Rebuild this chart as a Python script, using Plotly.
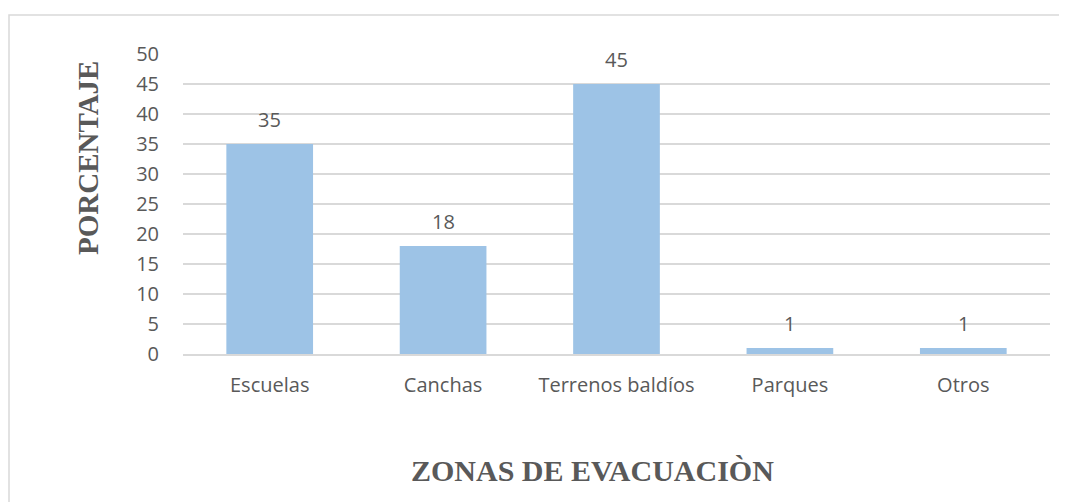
import plotly.graph_objects as go

categories = ["Escuelas", "Canchas", "Terrenos baldíos", "Parques", "Otros"]
values = [35, 18, 45, 1, 1]
y_ticks = [0, 5, 10, 15, 20, 25, 30, 35, 40, 45, 50]

TEXT = "#595959"
BAR = "#9DC3E6"
GRID = "#D9D9D9"
OFF = 8  # default page body margin
W, H = 1067 - OFF, 502 - OFF
L, R, T, B = 183 - OFF, 17, 54 - OFF, 148
PW, PH = W - L - R, H - T - B


def px_x(x):
    return (x - OFF - L) / PW


def px_y(y):
    return (T + PH - (y - OFF)) / PH


fig = go.Figure(
    go.Bar(
        x=categories,
        y=values,
        marker=dict(color=BAR, line=dict(width=0)),
        width=0.5,
        hoverinfo="skip",
    )
)

for c, v in zip(categories, values):
    fig.add_annotation(
        x=c, y=v, xref="x", yref="y", text=str(v), showarrow=False,
        yanchor="bottom", yshift=9,
        font=dict(family="Open Sans", size=20, color=TEXT),
    )

fig.add_annotation(
    x=px_x(88), y=px_y(158), xref="paper", yref="paper",
    xanchor="center", yanchor="middle",
    text="<b>PORCENTAJE</b>", textangle=-90, showarrow=False,
    font=dict(family="Liberation Serif", size=29, color=TEXT),
)
fig.add_annotation(
    x=px_x(592), y=px_y(470), xref="paper", yref="paper",
    xanchor="center", yanchor="middle",
    text="<b>ZONAS DE EVACUACIÒN</b>", showarrow=False,
    font=dict(family="Liberation Serif", size=30, color=TEXT),
)

fig.add_shape(
    type="rect", xref="paper", yref="paper",
    x0=px_x(9), x1=px_x(1100), y0=px_y(560), y1=px_y(15),
    line=dict(color=GRID, width=1.5), fillcolor="rgba(0,0,0,0)", layer="below",
)

fig.update_layout(
    width=W, height=H,
    margin=dict(l=L, r=R, t=T, b=B, pad=0),
    paper_bgcolor="white", plot_bgcolor="white",
    showlegend=False,
    bargap=0.5,
    font=dict(family="Open Sans", size=20, color=TEXT),
)
fig.update_xaxes(
    showgrid=False, showline=True, linecolor=GRID, linewidth=1.5,
    ticks="outside", ticklen=12, tickcolor="rgba(0,0,0,0)",
    tickfont=dict(family="Open Sans", size=20, color=TEXT),
)
fig.update_yaxes(
    range=[0, 50], tickvals=y_ticks, showgrid=True, gridcolor=GRID, gridwidth=1.5,
    zeroline=False, showline=False,
    ticks="outside", ticklen=19, tickcolor="rgba(0,0,0,0)",
    tickfont=dict(family="Open Sans", size=20, color=TEXT),
)

fig.write_html("out.html")
